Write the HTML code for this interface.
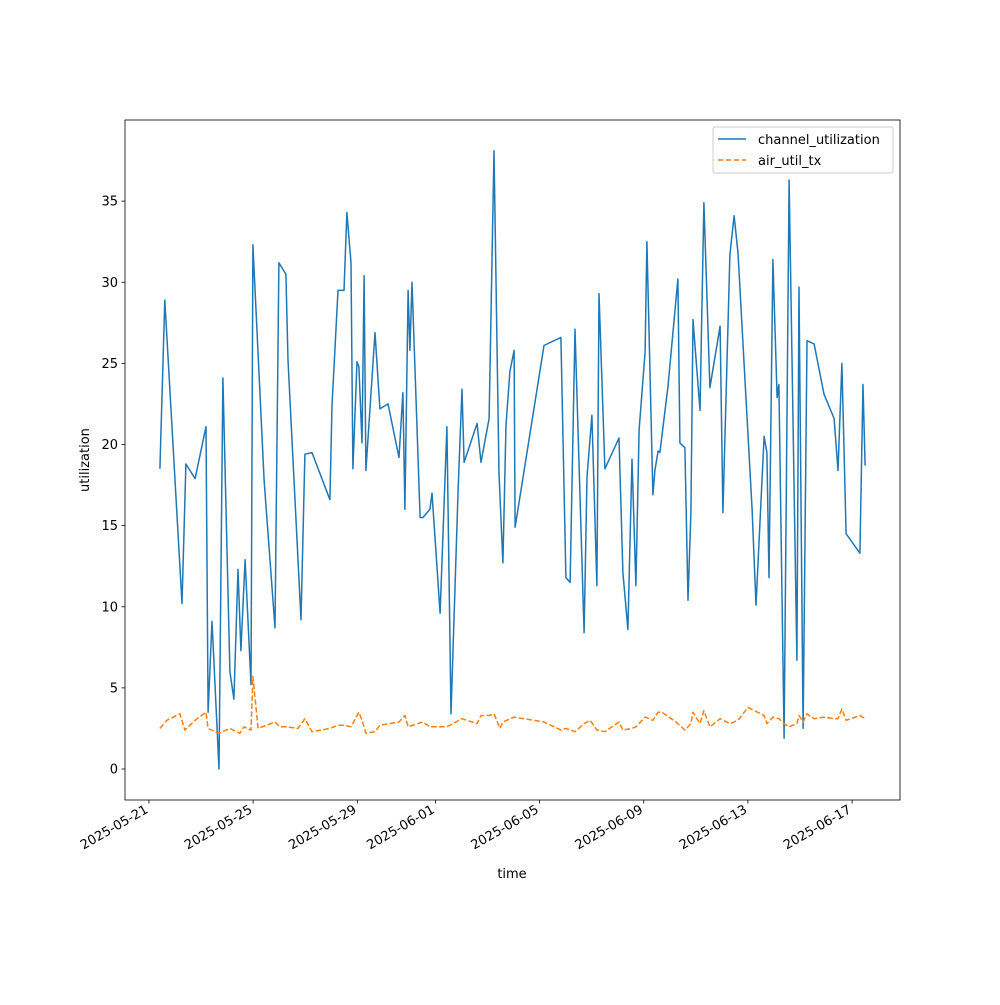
<!DOCTYPE html>
<html><head><meta charset="utf-8"><style>
html,body{margin:0;padding:0;background:#fff;}
svg text{font-family:"DejaVu Sans","Liberation Sans",sans-serif;font-size:13px;fill:#000;}
</style></head><body>
<svg id="chart" width="1000" height="1000" xmlns="http://www.w3.org/2000/svg"></svg>
<script>
const chanDays=[0.42,0.61,1.27,1.42,1.77,2.19,2.27,2.42,2.69,2.84,3.11,3.26,3.42,3.53,3.69,3.92,3.99,4.42,4.84,4.99,5.26,5.34,5.84,5.99,6.26,6.95,7.03,7.26,7.49,7.60,7.76,7.83,7.99,8.06,8.18,8.26,8.33,8.68,8.87,9.18,9.60,9.75,9.83,9.95,10.02,10.10,10.41,10.52,10.79,10.87,11.18,11.44,11.60,11.87,12.02,12.10,12.60,12.75,13.06,13.25,13.44,13.59,13.71,13.86,14.02,14.06,15.17,15.82,16.01,16.17,16.36,16.71,16.82,17.01,17.20,17.28,17.51,18.05,18.20,18.39,18.55,18.70,18.82,19.05,19.12,19.35,19.43,19.55,19.62,19.93,20.31,20.39,20.58,20.70,20.81,20.89,21.16,21.31,21.54,21.93,22.04,22.31,22.47,22.62,23.16,23.31,23.62,23.73,23.81,23.96,24.12,24.19,24.39,24.58,24.88,24.96,25.12,25.27,25.54,25.92,26.31,26.46,26.61,26.77,27.30,27.42,27.50];
const chanVals=[18.5,28.9,10.2,18.8,17.9,21.1,3.5,9.1,0,24.1,6.0,4.3,12.3,7.3,12.9,5.2,32.3,17.8,8.7,31.2,30.5,25.2,9.2,19.4,19.5,16.6,22.4,29.5,29.5,34.3,31.2,18.5,25.1,24.8,20.1,30.4,18.4,26.9,22.2,22.5,19.2,23.2,16.0,29.5,25.8,30.0,15.5,15.5,16.0,17.0,9.6,21.1,3.4,17.2,23.4,18.9,21.3,18.9,21.6,38.1,18.2,12.7,21.2,24.5,25.8,14.9,26.1,26.6,11.8,11.5,27.1,8.4,18.0,21.8,11.3,29.3,18.5,20.4,12.1,8.6,19.1,11.3,20.9,25.7,32.5,16.9,18.4,19.6,19.5,23.6,30.2,20.1,19.8,10.4,15.8,27.7,22.1,34.9,23.5,27.3,15.8,31.7,34.1,31.8,16.0,10.1,20.5,19.5,11.8,31.4,22.9,23.7,1.9,36.3,6.7,29.7,2.5,26.4,26.2,23.1,21.6,18.4,25.0,14.5,13.3,23.7,18.7];
const airDays=[0.42,0.69,1.19,1.38,1.77,2.19,2.27,2.69,3.11,3.49,3.65,3.92,3.99,4.19,4.84,5.03,5.26,5.72,5.99,6.26,6.95,7.26,7.49,7.76,8.06,8.18,8.33,8.68,8.87,9.60,9.83,9.95,10.52,10.79,11.44,12.02,12.60,12.75,13.06,13.25,13.48,13.59,14.02,15.17,15.82,16.01,16.36,16.71,16.94,17.20,17.51,18.05,18.20,18.55,18.70,19.05,19.35,19.55,19.70,20.24,20.58,20.81,20.89,21.16,21.31,21.54,21.93,22.31,22.62,23.00,23.62,23.73,23.96,24.19,24.39,24.58,24.88,24.96,25.12,25.27,25.54,25.92,26.31,26.46,26.61,26.77,27.30,27.50];
const airVals=[2.5,3.0,3.4,2.4,3.0,3.5,2.5,2.2,2.5,2.2,2.6,2.4,5.7,2.5,2.9,2.6,2.6,2.5,3.1,2.3,2.5,2.7,2.7,2.6,3.5,3.0,2.2,2.3,2.7,2.9,3.3,2.6,2.9,2.6,2.6,3.1,2.8,3.3,3.3,3.4,2.5,2.9,3.2,2.9,2.4,2.5,2.3,2.8,3.0,2.4,2.3,2.9,2.4,2.5,2.6,3.2,3.0,3.5,3.5,2.9,2.4,2.8,3.5,2.8,3.6,2.6,3.1,2.8,3.0,3.8,3.3,2.8,3.2,3.1,2.8,2.6,2.8,3.3,2.9,3.4,3.1,3.2,3.1,3.1,3.7,3.0,3.3,3.1];
const yTicks=[0,5,10,15,20,25,30,35];
const xTickDays=[0,4,8,11,15,19,23,27];
const xTickLabels=["2025-05-21","2025-05-25","2025-05-29","2025-06-01","2025-06-05","2025-06-09","2025-06-13","2025-06-17"];

const L=125,R=900,T=120,B=800;
const xMin=-0.92,xMax=28.84,yMin=-1.91,yMax=40.0;
function xs(d){return L+(d-xMin)/(xMax-xMin)*(R-L);}
function ys(v){return B-(v-yMin)/(yMax-yMin)*(B-T);}
const svg=document.getElementById('chart');
const NS='http://www.w3.org/2000/svg';
function mk(tag,attrs,parent){const e=document.createElementNS(NS,tag);for(const k in attrs)e.setAttribute(k,attrs[k]);(parent||svg).appendChild(e);return e;}

const ax=mk('g',{});


// y ticks
yTicks.forEach(v=>{
  const y=ys(v);
  const t=mk('line',{x1:L-3.5,x2:L,y1:y,y2:y,stroke:'#000','stroke-width':0.8},ax);
  
  
  const tx=mk('text',{x:L-7,y:y+4.5,'text-anchor':'end'},ax);
  
  
  tx.textContent=v;
});
xTickDays.forEach((d,i)=>{
  const x=xs(d);
  const t=mk('line',{x1:x,x2:x,y1:B,y2:B+3.5,stroke:'#000','stroke-width':0.8},ax);
  
  
  const tx=mk('text',{x:x,y:B+12,'text-anchor':'end',transform:`rotate(-30 ${x} ${B+12})`},ax);
  
  
  tx.textContent=xTickLabels[i];
});
function series(days,vals,color,dash,name){
  const p=mk('polyline',{points:days.map((d,i)=>xs(d).toFixed(1)+','+ys(vals[i]).toFixed(1)).join(' '),fill:'none',stroke:color,'stroke-width':1.5,'stroke-linejoin':'round'});
  if(dash)p.setAttribute('stroke-dasharray',dash);
  
  
}
series(chanDays,chanVals,'#1f77b4',null,'channel-utilization-line');
series(airDays,airVals,'#ff7f0e','5.5,2.4','air-util-tx-line');
const frame=mk('rect',{x:L,y:T,width:R-L,height:B-T,fill:'none',stroke:'#000','stroke-width':0.8});


const yt=mk('text',{x:89,y:460,'text-anchor':'middle',transform:'rotate(-90 89 460)'});


yt.textContent='utilization';
const xt=mk('text',{x:512,y:878,'text-anchor':'middle'});


xt.textContent='time';
// legend
const lg=mk('g',{});


mk('rect',{x:713,y:127,width:180,height:46,rx:2,fill:'#fff','fill-opacity':0.8,stroke:'#ccc','stroke-width':1},lg);
const l1=mk('line',{x1:718,x2:746,y1:139,y2:139,stroke:'#1f77b4','stroke-width':1.5},lg);


const t1=mk('text',{x:758,y:144},lg);


t1.textContent='channel_utilization';
const l2=mk('line',{x1:718,x2:746,y1:160,y2:160,stroke:'#ff7f0e','stroke-width':1.5,'stroke-dasharray':'5.5,2.4'},lg);


const t2=mk('text',{x:758,y:165},lg);


t2.textContent='air_util_tx';
</script>
</body></html>
